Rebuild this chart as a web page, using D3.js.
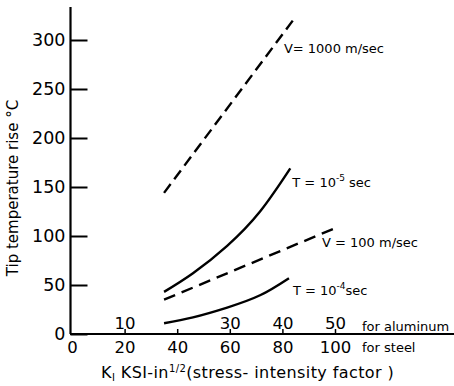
<!DOCTYPE html>
<html>
<head>
<meta charset="utf-8">
<script src="https://cdn.jsdelivr.net/npm/d3@7"></script>
<style>
  body { margin: 0; background: #fff; }
  svg { display: block; }
  text { font-family: "DejaVu Sans", sans-serif; fill: #000; }
</style>
</head>
<body>
<div id="chart"></div>
<script>
// K_I values are given on the steel scale (aluminum = steel / 2)
var steelTicks = [0, 20, 40, 60, 80, 100];
var aluminumTicks = [10, 20, 30, 40, 50];
var aluminumLabels = [10, 30, 40, 50];   // 20 is hidden behind the curves
var tempTicks = [0, 50, 100, 150, 200, 250, 300];

var v1000 = [[35, 144], [84, 320]];
var t1e5 = [[35, 43], [46, 62], [59, 90], [71.5, 125], [83, 169]];
var v100 = [[35, 35], [100, 108]];
var t1e4 = [[35, 11], [46, 17], [59, 27], [71.5, 39.5], [82.5, 57]];

var W = 454, H = 386;
var svg = d3.select("#chart").append("svg").attr("width", W).attr("height", H);

var x = d3.scaleLinear().domain([0, 100]).range([72, 335]);
var xAl = d3.scaleLinear().domain([0, 50]).range([72, 335]);
var y = d3.scaleLinear().domain([0, 300]).range([334, 40]);

// y axis line runs up past 300
svg.append("line")
    .attr("x1", 70.5).attr("x2", 70.5)
    .attr("y1", y(0)).attr("y2", 7)
    .attr("stroke", "#000").attr("stroke-width", 2.2);

var yAxis = svg.append("g")
    .attr("transform", "translate(70.5,0)")
    .call(d3.axisLeft(y).tickValues(tempTicks).tickSizeInner(-17).tickSizeOuter(0).tickPadding(5));
yAxis.select(".domain").remove();
yAxis.selectAll(".tick line").attr("stroke-width", 2);
yAxis.selectAll("text").style("font-size", "17.5px").attr("font-family", null);

// x axis line
svg.append("line")
    .attr("x1", 70).attr("x2", 454)
    .attr("y1", 334).attr("y2", 334)
    .attr("stroke", "#000").attr("stroke-width", 2);

var steelAxis = svg.append("g")
    .attr("transform", "translate(0,334)")
    .call(d3.axisBottom(x).tickValues(steelTicks).tickSize(0).tickPadding(7));
steelAxis.select(".domain").remove();
steelAxis.selectAll("text").style("font-size", "16.5px").attr("font-family", null);

var alAxis = svg.append("g")
    .attr("transform", "translate(0,334)")
    .call(d3.axisTop(xAl).tickValues(aluminumTicks).tickSizeInner(5).tickSizeOuter(0).tickPadding(0)
        .tickFormat(function (d) { return aluminumLabels.indexOf(d) >= 0 ? d : ""; }));
alAxis.select(".domain").remove();
alAxis.selectAll(".tick line").attr("stroke-width", 1.5);
alAxis.selectAll("text").style("font-size", "16.5px").attr("font-family", null);

svg.append("text").attr("x", 362).attr("y", 331).style("font-size", "13px").text("for aluminum");
svg.append("text").attr("x", 362).attr("y", 352).style("font-size", "13px").text("for steel");

// axis titles
var xt = svg.append("text").attr("x", 101).attr("y", 378)
    .style("font-size", "16px").style("letter-spacing", "0.4px");
xt.append("tspan").text("K");
xt.append("tspan").attr("dy", 3).style("font-size", "10px").text("I");
xt.append("tspan").attr("dy", -3).text(" KSI-in");
xt.append("tspan").attr("dy", -6).style("font-size", "10px").text("1/2");
xt.append("tspan").attr("dy", 6).text("(stress- intensity factor )");

svg.append("text")
    .attr("transform", "translate(18,188) rotate(-90)")
    .attr("text-anchor", "middle")
    .style("font-size", "15px")
    .text("Tip temperature rise °C");

// curves
var line = d3.line()
    .x(function (d) { return x(d[0]); })
    .y(function (d) { return y(d[1]); })
    .curve(d3.curveNatural);

var curves = [
    { data: v1000, dash: "11,6", label: ["V= 1000 m/sec"], dx: -9, dy: 33 },
    { data: t1e5, dash: null, label: ["T = 10", "-5", " sec"], dx: 2, dy: 19 },
    { data: v100, dash: "12,7", label: ["V = 100 m/sec"], dx: -13, dy: 19 },
    { data: t1e4, dash: null, label: ["T = 10", "-4", "sec"], dx: 4, dy: 17 }
];

curves.forEach(function (c) {
    svg.append("path")
        .datum(c.data)
        .attr("d", line)
        .attr("fill", "none")
        .attr("stroke", "#000")
        .attr("stroke-width", 2.4)
        .attr("stroke-dasharray", c.dash);

    var end = c.data[c.data.length - 1];
    var lbl = svg.append("text")
        .attr("x", x(end[0]) + c.dx)
        .attr("y", y(end[1]) + c.dy)
        .style("font-size", "13px");
    lbl.append("tspan").text(c.label[0]);
    if (c.label.length > 1) {
        lbl.append("tspan").attr("dy", -6).style("font-size", "9px").text(c.label[1]);
        lbl.append("tspan").attr("dy", 6).text(c.label[2]);
    }
});
</script>
</body>
</html>
